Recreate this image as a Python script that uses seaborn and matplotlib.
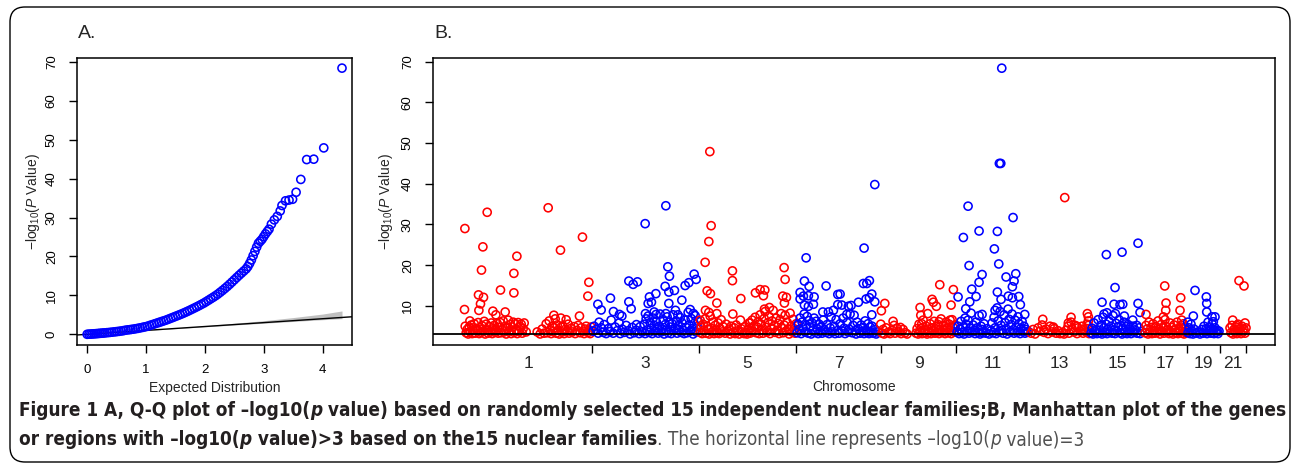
import matplotlib
matplotlib.use("Agg")
import matplotlib.pyplot as plt
import seaborn as sns
import pandas as pd
from matplotlib import font_manager
from matplotlib.collections import PathCollection
from matplotlib.patches import FancyBboxPatch

# ---- panel A : Q-Q plot ----
qq_expected = [0.00, 0.03, 0.06, 0.09, 0.12, 0.15, 0.18, 0.21, 0.24, 0.27, 0.30, 0.34, 0.38, 0.42,
               0.46, 0.50, 0.54, 0.58, 0.62, 0.66, 0.70, 0.74, 0.78, 0.82, 0.86, 0.90, 0.94, 0.98,
               1.02, 1.06, 1.10, 1.14, 1.18, 1.22, 1.26, 1.30, 1.34, 1.38, 1.42, 1.46, 1.50, 1.54,
               1.58, 1.62, 1.66, 1.70, 1.74, 1.78, 1.82, 1.86, 1.90, 1.94, 1.98, 2.02, 2.06, 2.10,
               2.14, 2.18, 2.22, 2.26, 2.30, 2.34, 2.38, 2.42, 2.46, 2.50, 2.54, 2.58, 2.62, 2.66,
               2.70, 2.73, 2.76, 2.79, 2.82, 2.85, 2.88, 2.91, 2.94, 2.97, 3.00, 3.03, 3.06, 3.09,
               3.13, 3.18, 3.23, 3.28, 3.31, 3.37, 3.43, 3.49, 3.55, 3.63, 3.73, 3.85, 4.02, 4.33]
qq_observed = [0.00, 0.03, 0.06, 0.09, 0.13, 0.16, 0.20, 0.24, 0.28, 0.32, 0.36, 0.42, 0.48, 0.55,
               0.62, 0.69, 0.77, 0.85, 0.95, 1.08, 1.15, 1.23, 1.32, 1.42, 1.53, 1.65, 1.78, 1.92,
               2.05, 2.25, 2.45, 2.65, 2.85, 3.05, 3.25, 3.45, 3.65, 3.88, 4.12, 4.36, 4.60, 4.84,
               5.08, 5.33, 5.60, 5.87, 6.15, 6.45, 6.75, 7.05, 7.36, 7.68, 8.00, 8.37, 8.75, 9.13,
               9.51, 9.90, 10.33, 10.80, 11.28, 11.78, 12.30, 12.85, 13.42, 14.00, 14.58, 15.15, 15.70, 16.25,
               16.80, 17.40, 18.20, 19.10, 20.20, 21.30, 22.40, 23.40, 23.90, 24.40, 25.10, 25.80, 26.40, 27.00,
               28.30, 29.40, 30.30, 31.70, 33.10, 34.30, 34.50, 34.70, 36.50, 39.80, 44.90, 45.00, 47.90, 68.40]
ci_x = [0, 1.0, 2.0, 3.0, 3.5, 4.0, 4.33]
ci_low = [0, 0.97, 1.92, 2.85, 3.30, 3.75, 4.02]
ci_high = [0, 1.05, 2.20, 3.50, 4.30, 5.20, 6.00]

# ---- panel B : Manhattan plot, (position, -log10 p) ----
chrom_labels = ["1", "3", "5", "7", "9", "11", "13", "15", "17", "19", "21"]
block_edges = [0, 128, 235, 332, 417, 492, 565, 626, 680, 723, 756, 782]
block_colours = ["red", "blue", "red", "blue", "red", "blue", "red", "blue", "red", "blue", "red"]

chr1_pts = [(0.7, 29.0), (23, 33.0), (18.7, 24.5), (17.3, 18.8), (14.3, 12.7), (19.3, 12.1), (16.3, 10.5),
            (14.7, 8.9), (0.3, 9.1), (5.7, 6.3), (28.7, 8.7), (31.7, 7.8), (36.3, 13.9), (41, 8.5),
            (49.7, 18.0), (52.7, 22.2), (49.7, 13.2), (84, 34.1), (96.3, 23.7), (118.3, 26.9),
            (124.7, 15.8), (123.7, 12.4), (89.7, 7.7), (115.3, 7.5), (96.7, 7.0), (102, 6.6),
            (1, 5.0), (2, 3.4), (3, 4.2), (4, 3.1), (5, 4.8), (6, 3.6), (7, 5.3), (8, 3.2), (9, 4.1),
            (10, 5.6), (11, 3.3), (12, 4.5), (13, 3.9), (14, 5.9), (15, 3.2), (16, 4.6), (17, 3.5),
            (18, 5.1), (19, 3.8), (20, 6.2), (21, 3.1), (22, 5.5), (23, 4.0), (24, 3.3), (25, 4.9),
            (26, 3.6), (27, 5.8), (28, 3.2), (29, 4.4), (30, 5.2), (31, 3.5), (32, 4.0), (33, 5.7),
            (34, 3.3), (35, 4.7), (36, 5.9), (37, 3.4), (38, 4.2), (39, 6.3), (40, 3.6), (41, 5.0),
            (42, 3.1), (43, 4.5), (44, 6.5), (45, 3.8), (46, 5.4), (47, 3.2), (48, 4.8), (49, 6.0),
            (50, 3.5), (51, 5.6), (52, 4.1), (53, 3.2), (54, 5.9), (55, 3.7), (56, 4.9), (57, 5.5),
            (58, 3.3), (59, 4.4), (60, 5.8), (62, 3.6), (73, 3.6), (76, 3.1), (78, 4.3), (80, 3.3),
            (82, 5.6), (83, 3.4), (85, 6.3), (86, 4.1), (87, 3.2), (88, 5.0), (89, 3.7), (90, 4.6),
            (91, 6.8), (92, 3.3), (93, 5.3), (94, 4.0), (95, 3.1), (97, 4.8), (98, 3.6), (99, 5.0),
            (100, 3.2), (101, 4.2), (103, 3.9), (104, 5.5), (105, 3.3), (107, 4.5), (108, 3.6),
            (110, 4.9), (111, 3.2), (113, 4.0), (114, 5.2), (116, 3.4), (117, 4.6), (119, 3.8),
            (120, 3.2), (121, 4.3), (122, 5.0), (124, 3.5), (125, 4.1), (126, 3.2), (127, 4.8)]

chr3_pts = [(181, 30.2), (201.7, 34.6), (203.7, 19.6), (205.3, 17.3), (201, 14.8), (204.7, 13.4),
            (210.3, 13.8), (204.7, 10.6), (217.7, 11.4), (221, 15.0), (224.7, 15.7), (230, 17.8),
            (232, 16.5), (164.7, 16.1), (169, 15.3), (173.3, 15.9), (164.7, 11.0), (167, 9.3),
            (146.3, 11.9), (133.7, 10.4), (137, 9.0), (149.3, 8.6), (155.3, 7.9), (157.7, 7.5),
            (191.7, 13.0), (185.3, 12.2), (187.3, 10.9), (184, 10.6), (181.3, 8.1), (190, 8.5),
            (192, 7.9), (172.3, 5.4), (226, 9.1), (229.3, 8.1), (211.3, 8.9), (213.7, 7.8), (201.7, 8.1),
            (129, 3.8), (130, 5.0), (132, 4.2), (134, 3.3), (135, 6.0), (137, 4.6), (139, 3.5),
            (140, 5.4), (142, 3.2), (144, 4.4), (146, 3.7), (147, 6.5), (149, 3.3), (151, 4.8),
            (153, 3.9), (155, 5.8), (156, 3.2), (158, 4.3), (160, 3.5), (162, 5.2), (164, 3.9),
            (166, 3.1), (168, 4.7), (170, 3.4), (172, 4.0), (175, 3.2), (176, 4.9), (178, 3.6),
            (180, 5.5), (181, 3.2), (182, 6.8), (183, 4.1), (184, 7.5), (185, 3.5), (186, 5.9),
            (187, 4.5), (188, 3.2), (189, 7.0), (190, 5.2), (191, 3.8), (192, 6.2), (193, 4.6),
            (194, 3.3), (195, 5.0), (196, 8.0), (197, 3.6), (198, 4.3), (199, 6.6), (200, 3.1),
            (201, 5.4), (202, 4.0), (203, 7.3), (204, 3.4), (205, 6.0), (206, 4.8), (207, 3.2),
            (208, 5.6), (209, 7.8), (210, 3.9), (211, 4.5), (212, 6.3), (213, 3.3), (214, 5.1),
            (215, 4.2), (216, 7.1), (217, 3.5), (218, 5.8), (219, 4.0), (220, 3.2), (221, 6.5),
            (222, 4.7), (223, 3.4), (224, 8.4), (225, 5.3), (226, 3.8), (227, 6.9), (228, 4.4),
            (229, 3.1), (230, 5.7), (231, 7.6), (232, 3.6), (233, 4.9), (234, 6.2)]

chr5_pts = [(245.7, 47.9), (247, 29.7), (244.7, 25.8), (241, 20.7), (243, 13.7), (246.3, 13.0),
            (252.7, 10.7), (241.3, 8.9), (244.7, 8.4), (252.7, 8.1), (268.3, 18.6), (268.3, 16.2),
            (276.7, 11.8), (268.7, 8.0), (276.3, 6.5), (291.3, 13.2), (296, 14.0), (300.7, 13.9),
            (299.3, 12.5), (320, 19.4), (321, 16.5), (318.7, 12.4), (322.3, 12.1), (320.3, 10.7),
            (300.3, 9.2), (305.3, 9.6), (286, 5.8), (236, 6.5),
            (236, 3.5), (237, 4.8), (238, 3.2), (239, 5.5), (240, 4.0), (241, 6.8), (242, 3.3),
            (243, 5.0), (244, 4.2), (245, 3.1), (246, 7.5), (247, 4.5), (248, 3.6), (249, 6.0),
            (250, 3.2), (251, 5.2), (252, 4.0), (253, 3.4), (254, 5.8), (255, 3.2), (256, 4.4),
            (257, 6.6), (258, 3.6), (259, 4.9), (261, 3.3), (262, 5.5), (264, 3.8), (265, 4.3),
            (266, 3.1), (267, 5.0), (269, 3.5), (270, 4.6), (271, 3.2), (272, 5.3), (274, 3.9),
            (275, 3.1), (277, 4.4), (278, 3.6), (280, 3.2), (281, 4.9), (282, 3.5), (283, 3.1),
            (284, 4.2), (285, 5.8), (286, 3.3), (287, 4.6), (288, 6.5), (289, 3.7), (290, 5.1),
            (291, 7.2), (292, 3.4), (293, 4.8), (294, 6.1), (295, 3.2), (296, 7.8), (297, 5.5),
            (298, 4.1), (299, 3.3), (300, 6.9), (301, 8.6), (302, 4.7), (303, 3.6), (304, 5.9),
            (305, 7.4), (306, 3.2), (307, 4.4), (308, 6.3), (309, 8.9), (310, 5.1), (311, 3.5),
            (312, 7.0), (313, 4.0), (314, 5.7), (315, 3.2), (316, 6.6), (317, 8.1), (318, 4.6),
            (319, 3.4), (320, 5.3), (321, 7.7), (322, 3.8), (323, 6.0), (324, 4.3), (325, 3.1),
            (326, 8.2), (327, 5.0), (328, 3.6), (329, 6.7), (330, 4.4), (331, 3.3), (332, 5.6)]

chr7_pts = [(342, 21.8), (340.3, 16.1), (345, 14.8), (336, 13.3), (339.3, 12.4), (344.3, 12.5),
            (350, 12.2), (336, 11.7), (340.3, 10.2), (344.3, 9.9), (349.3, 10.4), (362, 14.9),
            (373.7, 12.8), (373.7, 10.3), (384.3, 9.9), (358.7, 8.5), (364.3, 8.5), (369.3, 8.9),
            (410.7, 39.8), (400, 24.2), (399.3, 15.5), (405.3, 16.2), (402.7, 15.5), (407.7, 12.9),
            (402, 11.7), (405.3, 12.0), (410.7, 11.0), (394.3, 10.9), (387, 10.1), (382.7, 7.9),
            (390, 7.7), (407.7, 7.8), (377.7, 10.2), (376, 12.9),
            (333, 3.4), (334, 5.5), (335, 4.2), (336, 7.0), (337, 3.2), (338, 6.0), (339, 4.6),
            (340, 8.0), (341, 3.6), (342, 5.2), (343, 7.4), (344, 3.3), (345, 6.4), (346, 4.8),
            (347, 3.1), (348, 5.8), (349, 4.1), (350, 7.0), (351, 3.5), (352, 6.2), (353, 4.4),
            (354, 3.2), (355, 5.5), (356, 3.8), (357, 4.9), (358, 3.3), (359, 6.5), (360, 4.2),
            (362, 3.5), (363, 5.4), (365, 3.2), (366, 4.6), (367, 7.3), (368, 3.6), (370, 5.0),
            (371, 3.2), (372, 6.6), (374, 4.0), (375, 3.3), (376, 5.6), (378, 3.8), (379, 7.0),
            (380, 4.5), (381, 3.2), (383, 5.9), (384, 3.6), (385, 4.3), (386, 8.0), (388, 3.4),
            (389, 5.2), (391, 3.9), (392, 3.1), (393, 6.0), (394, 4.4), (396, 3.3), (397, 5.3),
            (398, 3.8), (399, 4.7), (400, 3.2), (401, 6.3), (402, 4.0), (403, 3.5), (404, 5.6),
            (405, 3.2), (406, 4.8), (407, 3.6), (408, 5.0), (409, 3.3), (411, 4.2), (412, 3.1), (414, 3.6)]

chr9_pts = [(420.7, 10.6), (417.3, 8.8), (416.7, 5.5), (429, 6.2), (436.3, 4.7), (456, 9.6),
            (456.7, 7.7), (463.7, 8.1), (468, 11.6), (469.3, 10.9), (472.3, 9.9), (475.7, 15.2),
            (489.3, 14.0), (487, 10.2), (475, 6.1), (457.7, 5.6), (486, 6.5),
            (418, 3.3), (419, 4.2), (420, 3.1), (422, 4.6), (424, 3.5), (426, 3.2), (428, 4.0),
            (430, 5.2), (431, 3.3), (433, 4.5), (435, 3.6), (437, 3.2), (439, 4.2), (441, 3.4),
            (443, 3.1), (452, 3.3), (453, 4.4), (454, 3.1), (455, 5.5), (456, 3.6), (457, 4.5),
            (458, 3.2), (459, 6.5), (460, 4.0), (461, 3.4), (462, 5.0), (463, 3.1), (464, 4.3),
            (465, 3.5), (466, 5.6), (467, 3.2), (468, 4.6), (469, 3.8), (470, 6.2), (471, 3.3),
            (472, 4.9), (473, 3.6), (474, 5.4), (475, 3.2), (476, 4.2), (477, 6.8), (478, 3.5),
            (479, 5.1), (480, 3.9), (481, 3.2), (482, 6.0), (483, 4.5), (484, 3.4), (485, 5.5),
            (486, 4.0), (487, 3.2), (488, 6.6), (489, 4.7), (490, 3.6), (491, 5.3)]

chr11_pts = [(537.7, 68.4), (535.3, 45.0), (536.7, 45.0), (504, 34.5), (549, 31.7), (515, 28.4),
             (533.3, 28.3), (499.3, 26.8), (530.3, 24.0), (505, 19.9), (534.7, 20.3), (518, 17.7),
             (515, 15.8), (507.7, 14.1), (512, 12.3), (494, 12.2), (505.7, 11.0), (542, 17.1),
             (551.7, 17.9), (550, 16.1), (548.3, 14.7), (533.3, 13.4), (544.3, 12.4), (548.3, 12.0),
             (554.7, 12.3), (556.3, 10.3), (537, 11.6), (501.7, 9.3), (518, 7.9), (560.7, 7.9),
             (531, 8.9), (564.3, 3.7),
             (493, 3.6), (494, 5.0), (495, 3.2), (496, 4.3), (497, 6.2), (498, 3.5), (499, 4.8),
             (500, 3.1), (501, 7.0), (502, 5.5), (503, 3.8), (504, 6.5), (505, 3.3), (506, 4.5),
             (507, 8.2), (508, 3.6), (509, 5.3), (510, 4.0), (511, 3.2), (512, 6.0), (513, 4.6),
             (514, 3.5), (515, 7.6), (516, 3.1), (517, 5.0), (518, 4.2), (519, 3.4), (520, 5.6),
             (522, 3.3), (523, 4.4), (525, 3.1), (527, 3.9), (528, 5.8), (529, 3.4), (530, 7.2),
             (531, 4.6), (532, 3.2), (533, 9.5), (534, 6.3), (535, 3.7), (536, 8.6), (537, 5.2),
             (538, 4.0), (539, 3.3), (540, 7.8), (541, 5.9), (542, 4.4), (543, 3.1), (544, 9.2),
             (545, 6.7), (546, 3.6), (547, 5.4), (548, 8.0), (549, 4.1), (550, 3.3), (551, 6.5),
             (552, 4.8), (553, 3.5), (554, 7.3), (555, 5.6), (556, 3.2), (557, 4.5), (558, 6.2),
             (559, 3.7), (560, 5.0), (561, 3.3), (562, 4.2), (563, 3.6)]

chr13_pts = [(600.7, 36.6), (578.7, 6.7), (607, 7.2), (604.3, 5.8), (623.3, 8.1), (624.3, 7.3),
             (624.3, 6.3), (624.3, 5.2), (589.3, 4.8), (612.7, 5.0), (580, 4.0), (596, 3.2),
             (567, 3.3), (569, 4.2), (571, 3.1), (574, 4.6), (576, 3.8), (578, 5.3), (580, 3.5),
             (582, 4.3), (584, 3.2), (586, 5.0), (588, 3.6), (590, 4.4), (592, 3.3), (594, 3.9),
             (598, 3.4), (600, 3.1), (602, 4.0), (604, 5.0), (605, 3.3), (607, 6.0), (608, 4.4),
             (610, 3.6), (611, 5.2), (613, 3.2), (614, 4.6), (616, 3.8), (618, 5.0), (619, 3.3),
             (620, 4.2), (622, 3.6), (623, 5.5), (624, 4.4), (625, 3.2)]

chr15_pts = [(642.3, 22.6), (658, 23.2), (674, 25.4), (651, 14.5), (638, 10.9), (650, 10.4),
             (656, 10.3), (658.7, 10.4), (674, 10.6), (676, 8.4), (640, 8.0), (643, 8.3),
             (651.3, 8.1), (660.3, 7.5), (668.7, 6.5), (672.7, 5.2),
             (627, 3.3), (628, 4.5), (629, 3.1), (630, 5.8), (631, 3.6), (632, 4.2), (633, 3.2),
             (634, 6.6), (635, 4.0), (636, 3.4), (637, 5.2), (638, 3.1), (639, 7.2), (640, 4.6),
             (641, 3.5), (642, 5.5), (643, 3.2), (644, 4.3), (645, 6.2), (646, 3.6), (647, 5.0),
             (648, 3.3), (649, 7.6), (650, 4.1), (651, 3.2), (652, 5.7), (653, 3.7), (654, 4.8),
             (655, 6.6), (656, 3.4), (657, 5.2), (658, 3.1), (659, 4.4), (660, 6.0), (661, 3.5),
             (662, 4.9), (663, 3.2), (664, 5.4), (665, 3.8), (666, 4.3), (667, 3.2), (669, 5.0),
             (670, 3.5), (671, 4.1), (673, 3.3), (675, 4.6), (676, 3.2), (678, 3.7)]

chr17_pts = [(700.7, 14.9), (702, 10.7), (701.7, 8.9), (716.7, 12.0), (716, 8.9), (682, 7.9),
             (699.3, 7.3), (717.7, 6.5), (719.3, 5.6),
             (681, 3.4), (682, 5.2), (683, 4.3), (684, 3.1), (685, 6.0), (686, 3.6), (687, 4.7),
             (688, 3.2), (689, 5.6), (690, 4.0), (691, 3.3), (692, 4.9), (693, 3.5), (694, 6.3),
             (695, 4.2), (696, 3.1), (697, 5.4), (698, 3.8), (699, 4.6), (700, 3.3), (701, 6.6),
             (702, 5.0), (703, 3.6), (704, 4.2), (705, 3.2), (706, 5.8), (707, 3.5), (708, 4.7),
             (709, 3.1), (710, 5.3), (711, 4.0), (712, 3.4), (713, 6.0), (714, 3.2), (715, 4.5),
             (716, 3.7), (717, 5.2), (718, 3.3), (719, 4.3), (720, 3.1), (721, 4.8), (722, 3.5)]

chr19_pts = [(731, 13.8), (742.3, 12.2), (742.7, 10.6), (742.7, 8.5), (729.3, 7.5), (723.7, 6.0),
             (748, 7.3), (751, 7.3), (749.3, 6.1),
             (724, 3.4), (725, 4.6), (726, 3.2), (727, 5.5), (728, 3.8), (729, 3.1), (730, 4.3),
             (732, 3.3), (734, 3.6), (736, 3.1), (738, 4.2), (739, 3.3), (740, 5.0), (741, 3.6),
             (742, 4.4), (743, 3.2), (744, 6.0), (745, 3.7), (746, 4.8), (747, 3.3), (748, 5.6),
             (749, 4.0), (750, 3.2), (751, 4.6), (752, 3.5), (753, 4.0), (754, 3.2), (755, 3.8)]

chr21_pts = [(775, 16.2), (780, 14.9), (768.7, 6.5), (781, 5.8), (772.7, 5.2),
             (766, 4.6), (767, 3.4), (768, 5.2), (769, 3.1), (770, 4.2), (771, 3.6), (772, 4.8),
             (773, 3.2), (774, 5.5), (775, 3.8), (776, 4.4), (777, 3.2), (778, 5.0), (779, 3.6),
             (780, 4.2), (781, 3.3), (782, 4.6)]

threshold = 3

W, H = 1292, 465


def hollow(ax):
    # R style pch=1: open circles
    for pc in ax.collections:
        if isinstance(pc, PathCollection):
            fc = pc.get_facecolors()
            pc.set_edgecolors(fc)
            pc.set_facecolors("none")


def condensed_font(bold, italic):
    # look for a narrow / condensed sans face for the caption
    want = []
    for f in font_manager.fontManager.ttflist:
        fn = f.fname.replace("-", "").replace("_", "").lower()
        if ("narrow" in fn or "condensed" in fn) and "sans" in fn and "mono" not in fn and "serif" not in fn:
            is_bold = f.weight in ("bold", 700) or (isinstance(f.weight, int) and f.weight >= 600)
            is_it = f.style in ("italic", "oblique")
            if is_bold == bold and is_it == italic:
                want.append(f.fname)
    want.sort(key=lambda p: (0 if "liberation" in p.lower() else 1, 0 if "dejavu" in p.lower() else 1, len(p)))
    if want:
        return font_manager.FontProperties(fname=want[0])
    return font_manager.FontProperties(family="DejaVu Sans",
                                       weight="bold" if bold else "normal",
                                       style="italic" if italic else "normal")


sns.set_theme(style="white")
plt.rcParams["font.family"] = ["Liberation Sans", "DejaVu Sans"]
plt.rcParams["mathtext.fontset"] = "custom"
plt.rcParams["mathtext.rm"] = "Liberation Sans"
plt.rcParams["mathtext.it"] = "Liberation Sans:italic"
plt.rcParams["axes.unicode_minus"] = True

fig = plt.figure(figsize=(W / 100, H / 100), dpi=100)
axA = fig.add_axes([77 / W, 120 / H, 275 / W, 287 / H])
axB = fig.add_axes([433 / W, 120 / H, 842 / W, 287 / H])

ylab = r"$-\mathrm{log}_{10}(\mathit{P}\ \mathrm{Value})$"

# ---- A ----
qq = pd.DataFrame({"expected": qq_expected, "observed": qq_observed})
axA.fill_between(ci_x, ci_low, ci_high, color="#c0c0c0", lw=0, zorder=1)
axA.plot([-1, 5], [-1, 5], color="black", lw=1.0, zorder=2)
sns.scatterplot(data=qq, x="expected", y="observed", ax=axA, color="#0000ff",
                s=34, linewidth=1.15, legend=False, zorder=3)
hollow(axA)
axA.set_xlim(-0.173, 4.50)
axA.set_ylim(-2.75, 71.0)
axA.set_xticks(range(5))
axA.set_yticks(range(0, 71, 10))
axA.set_xlabel("Expected Distribution", fontsize=10)
axA.set_ylabel(ylab, fontsize=10)
axA.xaxis.set_label_coords(0.5, -0.125)
axA.yaxis.set_label_coords(-0.127, 0.5)

# ---- B ----
frames = []
for pts, col in zip([chr1_pts, chr3_pts, chr5_pts, chr7_pts, chr9_pts, chr11_pts,
                     chr13_pts, chr15_pts, chr17_pts, chr19_pts, chr21_pts], block_colours):
    d = pd.DataFrame(pts, columns=["pos", "logp"])
    d["colour"] = col
    frames.append(d)
manh = pd.concat(frames, ignore_index=True)

sns.scatterplot(data=manh, x="pos", y="logp", hue="colour", ax=axB,
                palette={"red": "#ff0000", "blue": "#0000ff"}, s=34, linewidth=1.15,
                legend=False, zorder=2)
hollow(axB)
axB.axhline(threshold, color="black", lw=1.3, zorder=3)
axB.set_xlim(-31.2, 811)
axB.set_ylim(0.39, 70.9)
axB.set_yticks(range(10, 71, 10))
centers = [(block_edges[i] + block_edges[i + 1]) / 2 for i in range(len(chrom_labels))]
axB.set_xticks(block_edges[1:])
axB.set_xticklabels([])
axB.set_xticks(centers, minor=True)
axB.set_xticklabels(chrom_labels, minor=True)
axB.set_xlabel("Chromosome", fontsize=10)
axB.set_ylabel(ylab, fontsize=10)
axB.xaxis.set_label_coords(0.5, -0.122)
axB.yaxis.set_label_coords(-0.045, 0.5)

for ax in (axA, axB):
    for sp in ax.spines.values():
        sp.set_color("black")
        sp.set_linewidth(1.1)
    ax.tick_params(which="major", direction="out", length=5.8, width=1.0, color="black",
                   pad=8, labelsize=9.5, labelcolor="black", bottom=True, left=True)
    ax.tick_params(axis="y", labelrotation=90)
    for lab in ax.get_yticklabels():
        lab.set_va("center")
    ax.grid(False)
axB.tick_params(axis="x", which="minor", length=0, pad=8, labelsize=12.5, bottom=True)

fig.text(78 / W, 1 - 38 / H, "A.", fontsize=14, va="baseline")
fig.text(434 / W, 1 - 38 / H, "B.", fontsize=14, va="baseline")

# ---- caption ----
dark, grey = "#231f20", "#505050"
f_b = condensed_font(True, False)
f_bi = condensed_font(True, True)
f_r = condensed_font(False, False)
f_i = condensed_font(False, True)
line1 = [("Figure 1 A, Q-Q plot of \u2013log10(", f_b, dark),
         ("p", f_bi, dark),
         (" value) based on randomly selected 15 independent nuclear families;B, Manhattan plot of the genes",
          f_b, dark)]
line2 = [("or regions with \u2013log10(", f_b, dark),
         ("p", f_bi, dark),
         (" value)>3 based on the15 nuclear families", f_b, dark),
         (". The horizontal line represents \u2013log10(", f_r, grey),
         ("p", f_i, grey),
         (" value)=3", f_r, grey)]

renderer = fig.canvas.get_renderer()


def put_line(pieces, x0, ybase, size):
    x = x0
    made = []
    for txt, fp, col in pieces:
        fp = fp.copy()
        fp.set_size(size)
        t = fig.text(x / W, 1 - ybase / H, txt, fontproperties=fp, color=col,
                     ha="left", va="baseline")
        x += t.get_window_extent(renderer).width
        made.append(t)
    return made, x - x0


tmp, width = put_line(line1, 19, 416, 12)
for t in tmp:
    t.remove()
cap_size = 12 * 1264 / width
put_line(line1, 19, 416, cap_size)
put_line(line2, 19, 445, cap_size)

border = FancyBboxPatch((0.10, 0.03), 12.80, 4.55, boxstyle="round,pad=0,rounding_size=0.15",
                        transform=fig.dpi_scale_trans, fill=False, lw=1.0, ec="black")
fig.add_artist(border)

fig.savefig("out.png", dpi=100)
